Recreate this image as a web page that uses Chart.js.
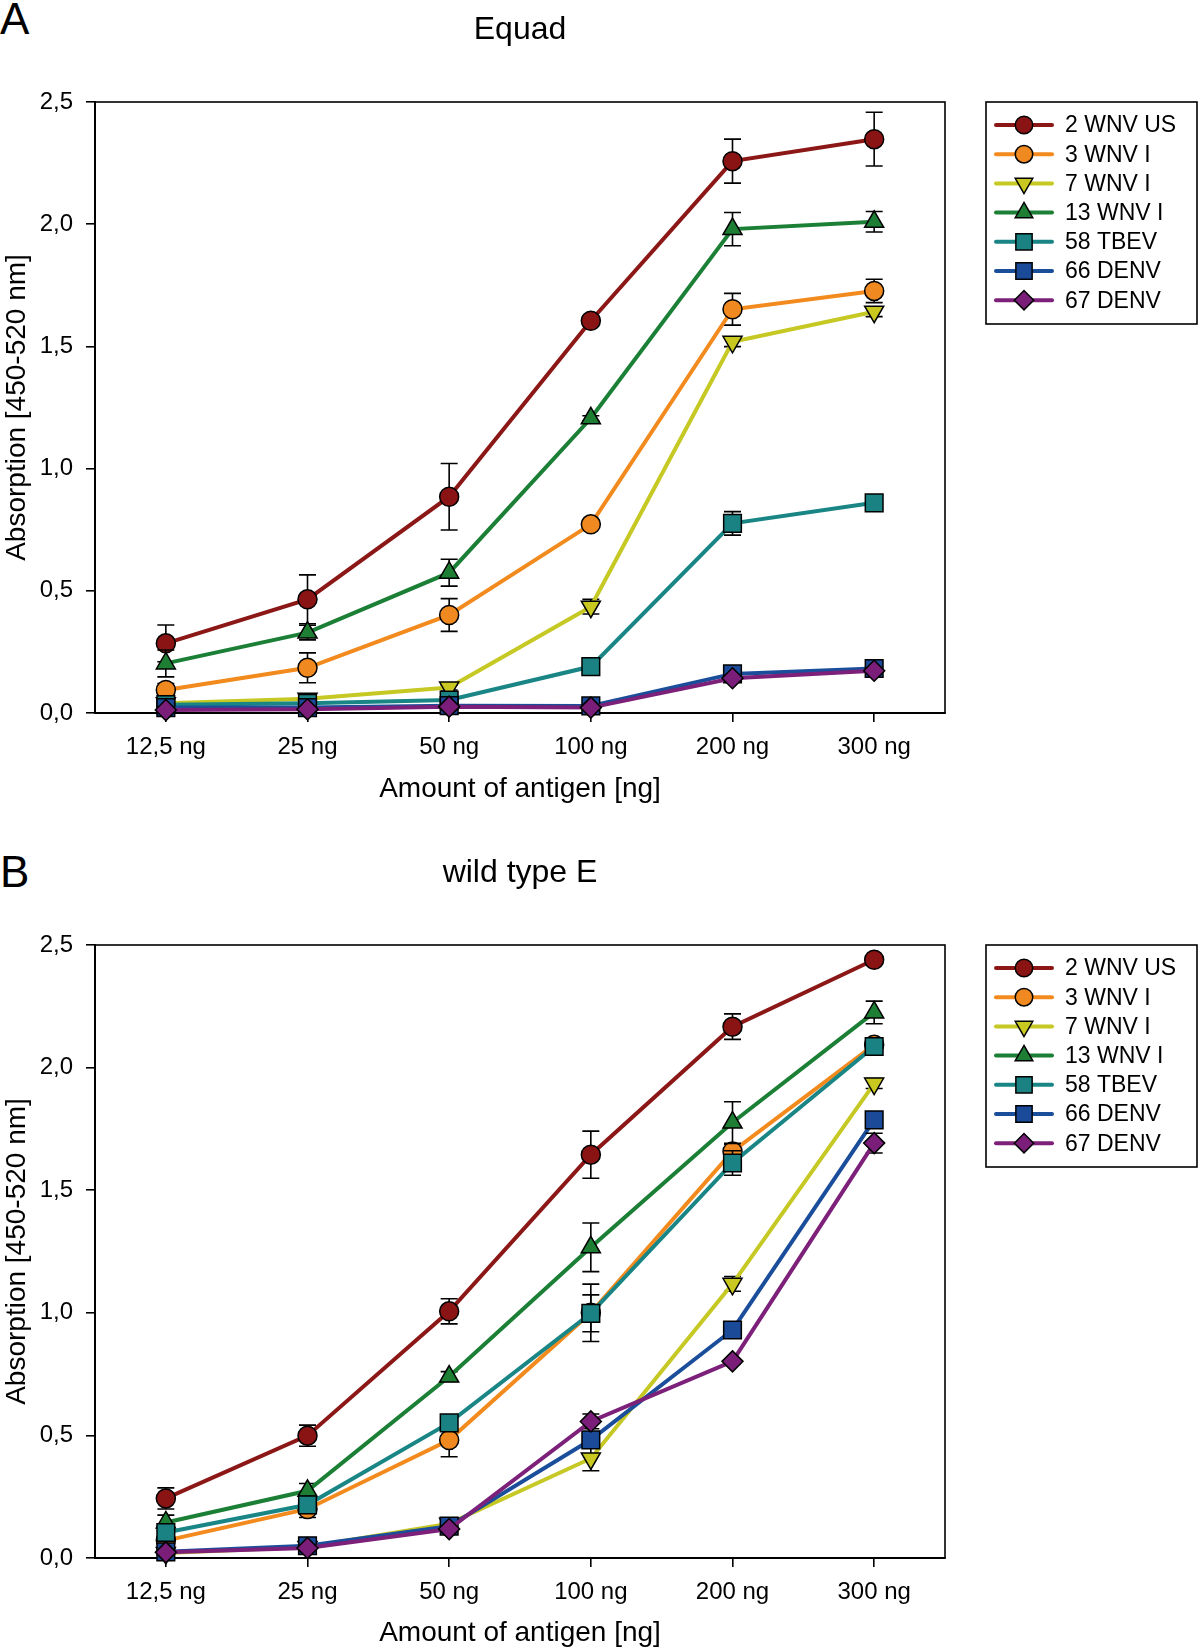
<!DOCTYPE html>
<html lang="en">
<head>
<meta charset="UTF-8">
<title>Equad / wild type E - Absorption</title>
<script src="https://cdn.jsdelivr.net/npm/chart.js"></script>
<style>
  body { margin: 0; background: #fff; width: 1200px; height: 1652px; position: relative; overflow: hidden;
         font-family: 'Liberation Sans', Arial, sans-serif; }
  .panel { position: absolute; left: 0; }
  .letter { position: absolute; font-size: 44px; line-height: 44px; color: #000; }
</style>
</head>
<body>
<div class="letter" style="left:0px; top:-3px;">A</div>
<canvas id="chartA" class="panel" style="top:0px;" width="1200" height="843"></canvas>
<div class="letter" style="left:0px; top:850px;">B</div>
<canvas id="chartB" class="panel" style="top:843px;" width="1200" height="809"></canvas>

<script>
// ---- data ----
const doses = ['12,5 ng', '25 ng', '50 ng', '100 ng', '200 ng', '300 ng'];
const seriesNames = ['2 WNV US', '3 WNV I', '7 WNV I', '13 WNV I', '58 TBEV', '66 DENV', '67 DENV'];
const yTickLabels = ['0,0', '0,5', '1,0', '1,5', '2,0', '2,5'];

// A: Equad
const equadWnvUs2  = [0.285, 0.465, 0.885, 1.605, 2.258, 2.348];
const equadWnvI3   = [0.094, 0.185, 0.401, 0.772, 1.652, 1.727];
const equadWnvI7   = [0.040, 0.058, 0.104, 0.435, 1.519, 1.642];
const equadWnvI13  = [0.203, 0.329, 0.574, 1.206, 1.980, 2.010];
const equadTbev58  = [0.034, 0.040, 0.053, 0.190, 0.776, 0.860];
const equadDenv66  = [0.022, 0.022, 0.030, 0.029, 0.160, 0.182];
const equadDenv67  = [0.012, 0.015, 0.026, 0.022, 0.142, 0.173];

const equadWnvUs2Err = [0.075, 0.100, 0.136, 0.020, 0.090, 0.110];
const equadWnvI3Err  = [0.027, 0.061, 0.067, 0.010, 0.065, 0.048];
const equadWnvI7Err  = [0.010, 0.020, 0.010, 0.030, 0.020, 0.020];
const equadWnvI13Err = [0.055, 0.030, 0.055, 0.010, 0.068, 0.042];
const equadTbev58Err = [0.010, 0.010, 0.010, 0.010, 0.048, 0.010];
const equadDenv66Err = [0.010, 0.010, 0.010, 0.010, 0.010, 0.010];
const equadDenv67Err = [0.010, 0.010, 0.010, 0.010, 0.010, 0.010];

// B: wild type E
const wtWnvUs2  = [0.243, 0.499, 1.006, 1.645, 2.167, 2.440];
const wtWnvI3   = [0.071, 0.200, 0.481, 1.000, 1.658, 2.093];
const wtWnvI7   = [0.020, 0.045, 0.140, 0.406, 1.118, 1.935];
const wtWnvI13  = [0.145, 0.274, 0.740, 1.267, 1.776, 2.225];
const wtTbev58  = [0.104, 0.217, 0.551, 0.998, 1.611, 2.086];
const wtDenv66  = [0.025, 0.050, 0.130, 0.482, 0.930, 1.787];
const wtDenv67  = [0.023, 0.041, 0.118, 0.557, 0.802, 1.692];

const wtWnvUs2Err = [0.043, 0.043, 0.051, 0.096, 0.052, 0.010];
const wtWnvI3Err  = [0.020, 0.035, 0.068, 0.117, 0.030, 0.020];
const wtWnvI7Err  = [0.010, 0.010, 0.010, 0.050, 0.030, 0.020];
const wtWnvI13Err = [0.030, 0.030, 0.020, 0.099, 0.085, 0.046];
const wtTbev58Err = [0.020, 0.020, 0.020, 0.075, 0.050, 0.025];
const wtDenv66Err = [0.010, 0.010, 0.010, 0.020, 0.020, 0.030];
const wtDenv67Err = [0.010, 0.010, 0.010, 0.030, 0.010, 0.040];

// ---- styles ----
const FONT = "'Liberation Sans', Arial, sans-serif";
Chart.defaults.font.family = FONT;
Chart.defaults.color = '#000';

const lineColors   = ['#8c1717', '#f28a1e', '#c6c824', '#1b7f36', '#1a8585', '#1b4e9a', '#7c2079'];
const markerFills  = ['#8a1414', '#f08a20', '#c8c820', '#1e7e34', '#1a8282', '#1a4a98', '#7a1e7a'];
const markerStyles = ['circle', 'circle', 'triangle', 'triangle', 'rect', 'rect', 'rectRot'];
const markerRotate = [0, 0, 180, 0, 0, 0, 0];
const markerRadius = [9.5, 9.5, 11, 11, 12.5, 12.5, 10.5];

// error bars, drawn just before each dataset
const errorBars = {
  id: 'errorBars',
  beforeDatasetDraw(chart, args) {
    const ds = chart.data.datasets[args.index];
    const y = chart.scales.y;
    const ctx = chart.ctx;
    ctx.save();
    ctx.strokeStyle = '#000';
    ctx.lineWidth = 1.6;
    args.meta.data.forEach((pt, j) => {
      const e = ds.errors[j];
      if (!e) return;
      const top = y.getPixelForValue(ds.data[j] + e);
      const bot = y.getPixelForValue(ds.data[j] - e);
      ctx.beginPath();
      ctx.moveTo(pt.x, top); ctx.lineTo(pt.x, bot);
      ctx.moveTo(pt.x - 8.5, top); ctx.lineTo(pt.x + 8.5, top);
      ctx.moveTo(pt.x - 8.5, bot); ctx.lineTo(pt.x + 8.5, bot);
      ctx.stroke();
    });
    ctx.restore();
  }
};

// box round the plot area
const frame = {
  id: 'frame',
  beforeDatasetsDraw(chart) {
    const {left, top, right, bottom} = chart.chartArea;
    const ctx = chart.ctx;
    ctx.save();
    ctx.strokeStyle = '#000';
    ctx.lineWidth = 1.6;
    ctx.strokeRect(left, top, right - left, bottom - top);
    ctx.restore();
  }
};

// legend with line + marker samples, in a bordered box
const boxLegend = {
  id: 'boxLegend',
  afterDraw(chart, args, o) {
    const ctx = chart.ctx;
    ctx.save();
    ctx.strokeStyle = '#000';
    ctx.lineWidth = 1.6;
    ctx.strokeRect(o.left, o.top, o.width, o.height);
    ctx.font = o.fontSize + 'px ' + FONT;
    ctx.textBaseline = 'middle';
    ctx.textAlign = 'left';
    chart.data.datasets.forEach((ds, i) => {
      const cy = o.top + o.firstRow + i * o.rowGap;
      ctx.strokeStyle = ds.borderColor;
      ctx.lineWidth = ds.borderWidth;
      ctx.lineCap = 'round';
      ctx.beginPath();
      ctx.moveTo(o.lineFrom, cy); ctx.lineTo(o.lineTo, cy);
      ctx.stroke();
      ctx.fillStyle = ds.pointBackgroundColor;
      ctx.strokeStyle = '#000';
      ctx.lineWidth = ds.pointBorderWidth;
      Chart.helpers.drawPoint(ctx, {
        pointStyle: ds.pointStyle, rotation: ds.pointRotation,
        radius: ds.pointRadius * 0.92, borderWidth: ds.pointBorderWidth
      }, (o.lineFrom + o.lineTo) / 2, cy);
      ctx.fillStyle = '#000';
      ctx.fillText(ds.label, o.textX, cy + 1);
    });
    ctx.restore();
  }
};

function makePanel(id, titleText, values, errors, g) {
  const datasets = seriesNames.map((name, i) => ({
    label: name,
    data: values[i],
    errors: errors[i],
    borderColor: lineColors[i],
    backgroundColor: markerFills[i],
    borderWidth: 4,
    pointBackgroundColor: markerFills[i],
    pointBorderColor: '#000',
    pointBorderWidth: 1.5,
    pointStyle: markerStyles[i],
    pointRotation: markerRotate[i],
    pointRadius: markerRadius[i],
    tension: 0,
    clip: false,
    order: seriesNames.length - i
  }));

  const tickGrid = { display: true, drawOnChartArea: false, drawTicks: true, tickLength: 9, color: '#000', lineWidth: 1.6 };

  return new Chart(document.getElementById(id), {
    type: 'line',
    data: { labels: doses, datasets },
    options: {
      responsive: false,
      animation: false,
      events: [],
      layout: { padding: { left: 0, right: 255, top: 0, bottom: 0 } },
      plugins: {
        legend: { display: false },
        tooltip: { enabled: false },
        title: {
          display: true, text: titleText, fullSize: false, color: '#000',
          font: { size: 32, weight: 'normal' },
          padding: { top: 11, bottom: 52.6 }
        },
        boxLegend: { left: 986, top: 102, width: 211, height: 222, firstRow: 23, rowGap: 29.2,
                     lineFrom: 996, lineTo: 1052, textX: 1065, fontSize: 23 }
      },
      scales: {
        x: {
          type: 'category', offset: true,
          grid: tickGrid,
          border: { display: true, color: '#000', width: 2 },
          ticks: { color: '#000', font: { size: 24 }, padding: 11, maxRotation: 0 },
          title: { display: true, text: 'Amount of antigen [ng]', color: '#000', font: { size: 28 },
                   padding: { top: 0, bottom: g.xTitlePad } },
          afterFit: s => { s.height = g.xHeight; }
        },
        y: {
          min: 0, max: 2.5,
          grid: tickGrid,
          border: { display: true, color: '#000', width: 2 },
          ticks: { stepSize: 0.5, color: '#000', font: { size: 24 }, padding: 13,
                   callback: (v, i) => yTickLabels[i] },
          title: { display: true, text: 'Absorption [450-520 nm]', color: '#000', font: { size: 28 },
                   padding: { top: 0, bottom: 0 } },
          afterFit: s => { s.width = 95; }
        }
      }
    },
    plugins: [frame, errorBars, boxLegend]
  });
}

makePanel('chartA', 'Equad',
  [equadWnvUs2, equadWnvI3, equadWnvI7, equadWnvI13, equadTbev58, equadDenv66, equadDenv67],
  [equadWnvUs2Err, equadWnvI3Err, equadWnvI7Err, equadWnvI13Err, equadTbev58Err, equadDenv66Err, equadDenv67Err],
  { xHeight: 130, xTitlePad: 37 });

makePanel('chartB', 'wild type E',
  [wtWnvUs2, wtWnvI3, wtWnvI7, wtWnvI13, wtTbev58, wtDenv66, wtDenv67],
  [wtWnvUs2Err, wtWnvI3Err, wtWnvI7Err, wtWnvI13Err, wtTbev58Err, wtDenv66Err, wtDenv67Err],
  { xHeight: 94, xTitlePad: 2 });
</script>
</body>
</html>
